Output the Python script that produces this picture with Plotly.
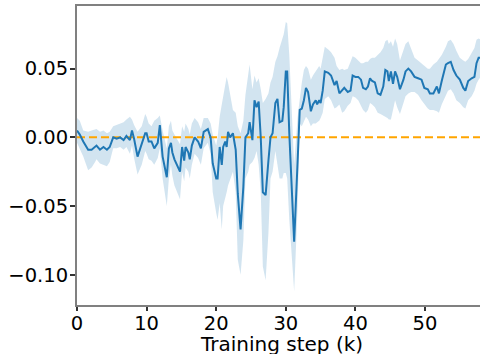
import plotly.graph_objects as go

steps = [0.0, 0.4, 0.9, 1.6, 2.1, 2.6, 2.8, 3.3, 3.8, 4.3, 4.7, 5.2, 5.7, 6.2, 6.7, 7.1, 7.6, 7.9, 8.2, 8.7,
         9.3, 9.8, 10.0, 10.3, 10.7, 11.1, 11.6, 11.9, 12.3, 12.9, 13.2, 13.5, 13.7, 14.0, 14.8, 15.1, 15.4, 15.6,
         16.0, 16.2, 16.5, 16.9, 17.4, 17.8, 18.2, 18.8, 19.2, 19.5, 20.0, 20.2, 20.5, 20.8, 21.0, 21.3, 21.5,
         21.7, 22.0, 22.4, 22.8, 23.1, 23.5, 23.9, 24.2, 24.6, 24.8, 25.2, 25.5, 25.8, 26.1, 26.4, 26.7, 27.1,
         27.5, 27.8, 28.1, 28.5, 28.8, 29.1, 29.5, 29.7, 30.0, 30.2, 30.5, 31.2, 31.7, 32.0, 32.3, 32.6, 32.9,
         33.2, 33.6, 33.9, 34.3, 34.5, 34.8, 35.0, 35.3, 35.6, 36.1, 36.5, 37.0, 37.3, 37.7, 38.1, 38.4, 38.9,
         39.3, 39.6, 40.0, 40.4, 40.8, 41.1, 41.5, 41.8, 42.1, 42.4, 42.8, 43.2, 43.6, 44.0, 44.3, 44.6, 44.8,
         45.1, 45.4, 45.7, 46.0, 46.4, 46.9, 47.2, 47.6, 48.0, 48.5, 49.0, 49.5, 49.9, 50.4, 50.7, 51.2, 51.7,
         52.0, 52.4, 53.0, 53.3, 53.7, 54.1, 54.5, 55.0, 55.5, 55.8, 56.2, 56.7, 57.1, 57.4, 57.7, 58.0]

mean_vals = [0.005, 0.002, -0.003, -0.009, -0.009, -0.007, -0.006, -0.009, -0.007, -0.009, -0.007, 0.000, -0.001,
             0.000, -0.002, 0.001, -0.002, 0.005, -0.001, -0.014, -0.004, 0.003, 0.003, -0.003, -0.003, -0.008,
             -0.004, 0.009, -0.014, -0.029, -0.008, -0.004, -0.011, -0.016, -0.025, -0.007, -0.017, -0.007,
             -0.011, -0.016, -0.006, 0.000, -0.003, -0.008, 0.004, 0.006, 0.000, -0.019, -0.030, -0.030, -0.007,
             -0.020, -0.007, -0.003, -0.007, 0.004, 0.000, 0.003, -0.009, -0.041, -0.067, -0.036, 0.000, 0.003,
             0.011, -0.002, 0.027, 0.022, 0.026, 0.000, -0.040, -0.042, -0.017, 0.000, 0.003, 0.025, 0.028,
             0.011, 0.012, 0.022, 0.048, 0.048, 0.003, -0.076, -0.017, 0.020, 0.021, 0.027, 0.036, 0.033, 0.019,
             0.024, 0.027, 0.024, 0.027, 0.025, 0.034, 0.048, 0.047, 0.045, 0.038, 0.041, 0.032, 0.034, 0.036,
             0.033, 0.034, 0.045, 0.044, 0.044, 0.042, 0.036, 0.035, 0.037, 0.043, 0.041, 0.040, 0.032, 0.031,
             0.037, 0.049, 0.048, 0.041, 0.048, 0.039, 0.048, 0.044, 0.035, 0.042, 0.048, 0.050, 0.048, 0.044,
             0.043, 0.042, 0.036, 0.035, 0.032, 0.032, 0.037, 0.032, 0.041, 0.053, 0.054, 0.055, 0.049, 0.045,
             0.042, 0.036, 0.034, 0.041, 0.043, 0.044, 0.054, 0.058, 0.058]

upper_vals = [0.014, 0.012, 0.005, 0.004, 0.005, 0.006, 0.006, 0.004, 0.005, 0.003, 0.004, 0.008, 0.009, 0.010,
              0.011, 0.013, 0.015, 0.013, 0.009, 0.004, 0.008, 0.017, 0.015, 0.010, 0.008, 0.012, 0.014, 0.016,
              0.005, -0.008, 0.008, 0.012, 0.005, 0.002, -0.005, 0.008, 0.004, 0.010, 0.006, 0.002, 0.010, 0.014,
              0.011, 0.006, 0.014, 0.014, 0.010, 0.002, -0.006, 0.000, 0.015, 0.024, 0.030, 0.038, 0.044, 0.040,
              0.030, 0.020, 0.018, 0.008, 0.003, 0.012, 0.031, 0.045, 0.053, 0.035, 0.045, 0.040, 0.043, 0.035,
              0.025, 0.028, 0.032, 0.040, 0.044, 0.055, 0.059, 0.065, 0.071, 0.075, 0.084, 0.083, 0.060, -0.020,
              0.015, 0.030, 0.040, 0.049, 0.052, 0.050, 0.042, 0.045, 0.048, 0.050, 0.052, 0.050, 0.058, 0.066,
              0.064, 0.062, 0.058, 0.052, 0.049, 0.050, 0.049, 0.050, 0.055, 0.059, 0.058, 0.056, 0.054, 0.054,
              0.055, 0.055, 0.057, 0.058, 0.058, 0.060, 0.062, 0.065, 0.070, 0.071, 0.068, 0.070, 0.066, 0.072,
              0.068, 0.056, 0.063, 0.068, 0.070, 0.064, 0.058, 0.056, 0.054, 0.052, 0.050, 0.050, 0.053, 0.055,
              0.057, 0.060, 0.066, 0.070, 0.071, 0.068, 0.063, 0.058, 0.056, 0.055, 0.057, 0.061, 0.065, 0.071,
              0.072, 0.071]

lower_vals = [-0.004, -0.008, -0.014, -0.024, -0.022, -0.018, -0.016, -0.019, -0.020, -0.021, -0.018, -0.008,
              -0.008, -0.007, -0.009, -0.007, -0.012, -0.006, -0.015, -0.027, -0.020, -0.010, -0.012, -0.016,
              -0.017, -0.020, -0.015, -0.008, -0.030, -0.050, -0.030, -0.020, -0.028, -0.035, -0.045, -0.025,
              -0.032, -0.022, -0.025, -0.030, -0.020, -0.012, -0.015, -0.020, -0.008, -0.004, -0.012, -0.040,
              -0.055, -0.060, -0.048, -0.067, -0.050, -0.045, -0.040, -0.035, -0.030, -0.025, -0.040, -0.089,
              -0.100, -0.075, -0.030, -0.025, -0.020, -0.018, -0.015, -0.010, -0.020, -0.040, -0.094, -0.104,
              -0.070, -0.030, -0.025, -0.010, -0.020, -0.030, -0.030, -0.026, -0.026, -0.030, -0.060, -0.112,
              -0.050, 0.010, 0.008, 0.012, 0.015, 0.013, 0.008, 0.010, 0.010, 0.011, 0.012, 0.014, 0.018, 0.028,
              0.030, 0.027, 0.021, 0.022, 0.024, 0.018, 0.019, 0.023, 0.025, 0.030, 0.029, 0.027, 0.023, 0.020,
              0.018, 0.020, 0.025, 0.024, 0.022, 0.018, 0.017, 0.016, 0.015, 0.014, 0.013, 0.013, 0.020, 0.027,
              0.022, 0.017, 0.025, 0.030, 0.032, 0.033, 0.033, 0.031, 0.027, 0.024, 0.021, 0.020, 0.020, 0.019,
              0.018, 0.024, 0.031, 0.034, 0.035, 0.032, 0.027, 0.025, 0.022, 0.021, 0.027, 0.030, 0.034, 0.039,
              0.042, 0.044]

baseline_value = 0.0
x_range = [0, 57.9]
y_range = [-0.122, 0.0956]
y_ticks = [-0.10, -0.05, 0.0, 0.05]
x_ticks = [0, 10, 20, 30, 40, 50]
x_title = "Training step (k)"

blue = "#1f77b4"
fig = go.Figure()
fig.add_trace(go.Scatter(x=steps, y=upper_vals, mode="lines", line=dict(width=0),
                         hoverinfo="skip", showlegend=False))
fig.add_trace(go.Scatter(x=steps, y=lower_vals, mode="lines", line=dict(width=0),
                         fill="tonexty", fillcolor="rgba(31,119,180,0.2)",
                         hoverinfo="skip", showlegend=False))
fig.add_trace(go.Scatter(x=[x_range[0], x_range[1]], y=[baseline_value, baseline_value], mode="lines",
                         line=dict(color="#ffa500", width=2, dash="8px,4px"), showlegend=False))
fig.add_trace(go.Scatter(x=steps, y=mean_vals, mode="lines",
                         line=dict(color=blue, width=2), showlegend=False))

font = "DejaVu Sans"
fig.update_layout(
    width=480, height=354,
    margin=dict(l=77, r=0, t=6, b=49, autoexpand=False),
    paper_bgcolor="white", plot_bgcolor="white",
    font=dict(family=font, size=19.5, color="black"),
    showlegend=False,
)
fig.update_xaxes(range=x_range, tickvals=x_ticks, showgrid=False, zeroline=False, automargin=False,
                 showline=True, linecolor="#808080", linewidth=2, mirror=True,
                 ticks="outside", ticklen=4, tickwidth=1.5, tickcolor="#333333",
                 ticklabelstandoff=-4, tickfont=dict(size=19.5))
fig.update_yaxes(range=y_range, tickvals=y_ticks, tickformat=".2f", showgrid=False, zeroline=False,
                 automargin=False,
                 showline=True, linecolor="#808080", linewidth=2,
                 ticks="outside", ticklen=5, tickwidth=1.5, tickcolor="#333333",
                 ticklabelstandoff=-2, tickfont=dict(size=19.5))
fig.add_annotation(text=x_title, xref="paper", yref="paper", x=0.507, y=0, yshift=-39,
                   xanchor="center", yanchor="middle", showarrow=False,
                   font=dict(family=font, size=20, color="black"))

fig.write_html("out.html", config={"displayModeBar": False},
               post_script="document.body.style.margin='0px';document.body.style.overflow='hidden';")
